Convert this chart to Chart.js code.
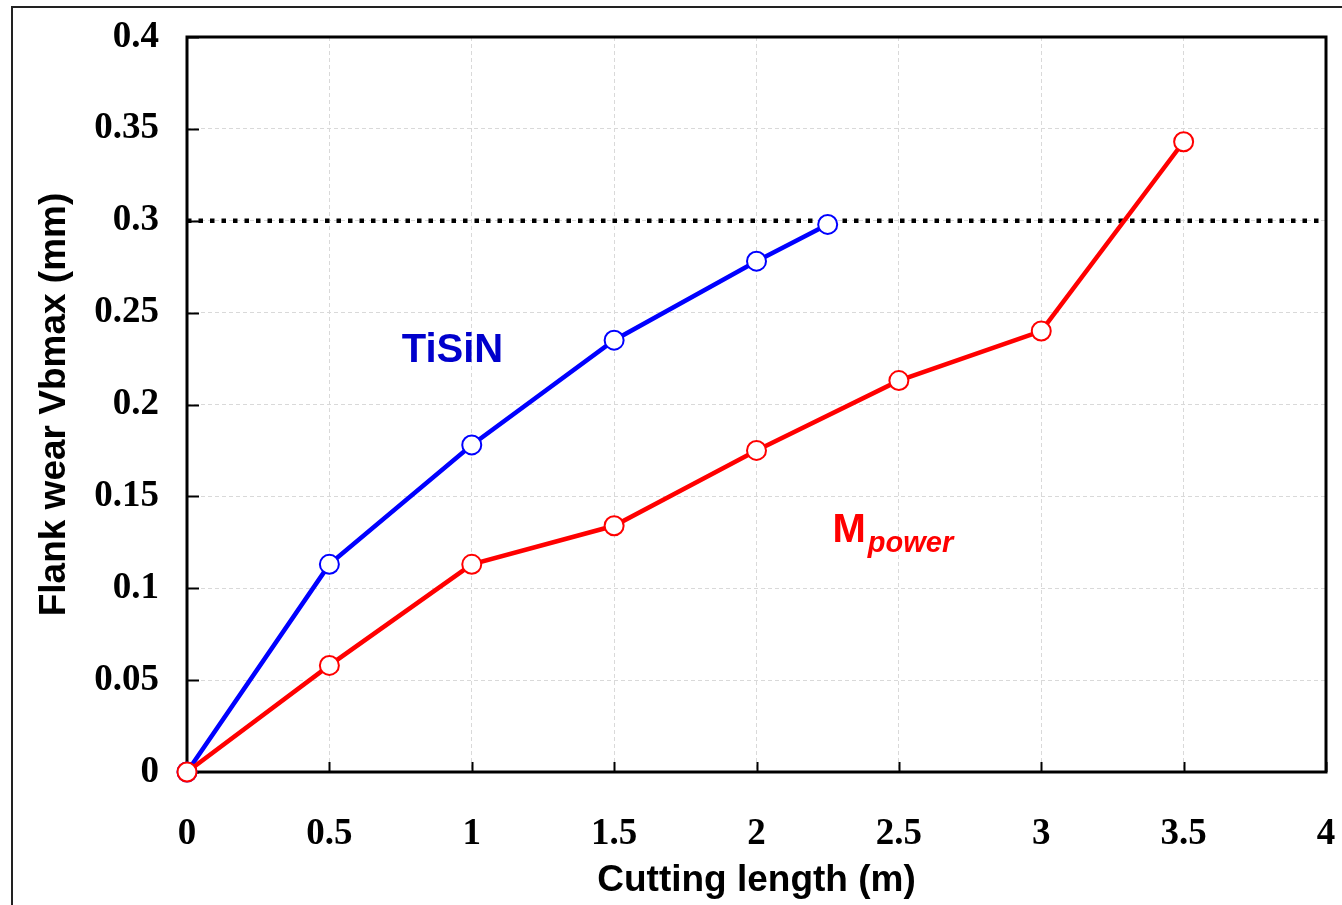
<!DOCTYPE html>
<html>
<head>
<meta charset="utf-8">
<script src="https://cdn.jsdelivr.net/npm/chart.js@4/dist/chart.umd.min.js"></script>
<style>
html,body{margin:0;padding:0;background:#fff;}
#wrap{width:1342px;height:905px;position:relative;}
</style>
</head>
<body>
<div id="wrap"><canvas id="c" width="1342" height="905"></canvas></div>
<script>
const cuttingLengthTiSiN = [0, 0.5, 1, 1.5, 2, 2.25];
const wearTiSiN = [0, 0.113, 0.178, 0.235, 0.278, 0.298];
const cuttingLengthMpower = [0, 0.5, 1, 1.5, 2, 2.5, 3, 3.5];
const wearMpower = [0, 0.058, 0.113, 0.134, 0.175, 0.213, 0.240, 0.343];
const limitX = [0, 4];
const limitY = [0.3, 0.3];
const xTicks = [0, 0.5, 1, 1.5, 2, 2.5, 3, 3.5, 4];
const yTicks = [0, 0.05, 0.1, 0.15, 0.2, 0.25, 0.3, 0.35, 0.4];

const pts = (xs, ys) => xs.map((x, i) => ({x: x, y: ys[i]}));

const framePlugin = {
  id: 'frame',
  beforeDraw(chart) {
    const ctx = chart.ctx;
    ctx.save();
    ctx.fillStyle = '#fff';
    ctx.fillRect(0, 0, chart.width, chart.height);
    ctx.strokeStyle = '#222';
    ctx.lineWidth = 2;
    ctx.strokeRect(12, 7, chart.width + 20, chart.height + 20);
    ctx.restore();
  },
  beforeDatasetsDraw(chart) {
    const ctx = chart.ctx;
    const a = chart.chartArea;
    const xs = chart.scales.x, ys = chart.scales.y;
    ctx.save();
    ctx.setLineDash([]);
    ctx.strokeStyle = '#000';
    ctx.lineWidth = 2;
    xTicks.forEach(v => {
      const px = Math.round(xs.getPixelForValue(v)) + 0.5;
      ctx.beginPath(); ctx.moveTo(px, a.bottom); ctx.lineTo(px, a.bottom - 10); ctx.stroke();
    });
    yTicks.forEach(v => {
      const py = Math.round(ys.getPixelForValue(v)) + 0.5;
      ctx.beginPath(); ctx.moveTo(a.left, py); ctx.lineTo(a.left + 12, py); ctx.stroke();
    });
    ctx.lineWidth = 3;
    ctx.strokeRect(a.left, a.top, a.right - a.left, a.bottom - a.top);
    ctx.restore();
  },
  afterDraw(chart) {
    const ctx = chart.ctx;
    const xs = chart.scales.x, ys = chart.scales.y;
    ctx.save();
    ctx.textBaseline = 'alphabetic';
    ctx.textAlign = 'left';
    ctx.fillStyle = '#0000cc';
    ctx.font = 'bold 40px "Liberation Sans", Arial, sans-serif';
    ctx.fillText('TiSiN', xs.getPixelForValue(0.754), ys.getPixelForValue(0.2231));
    ctx.fillStyle = '#ff0000';
    ctx.font = 'bold 40px "Liberation Sans", Arial, sans-serif';
    const mx = xs.getPixelForValue(2.267), my = ys.getPixelForValue(0.1252);
    ctx.fillText('M', mx, my);
    const mw = ctx.measureText('M').width;
    ctx.font = 'italic bold 29px "Liberation Sans", Arial, sans-serif';
    ctx.fillText('power', mx + mw + 2, my + 10);
    ctx.restore();
  }
};

const zeroPad = s => { s.paddingTop = 0; s.paddingBottom = 0; s.paddingLeft = 0; s.paddingRight = 0; };

new Chart(document.getElementById('c'), {
  type: 'scatter',
  data: {
    datasets: [
      {
        label: 'Mpower',
        data: pts(cuttingLengthMpower, wearMpower),
        showLine: true,
        clip: false,
        borderColor: '#ff0000',
        backgroundColor: '#ffffff',
        borderWidth: 4.5,
        pointRadius: 9.5,
        pointBorderWidth: 2,
        pointBorderColor: '#ff0000',
        pointBackgroundColor: '#ffffff'
      },
      {
        label: 'TiSiN',
        data: pts(cuttingLengthTiSiN, wearTiSiN),
        showLine: true,
        clip: false,
        borderColor: '#0000ff',
        backgroundColor: '#ffffff',
        borderWidth: 4.5,
        pointRadius: 9.5,
        pointBorderWidth: 2,
        pointBorderColor: '#0000ff',
        pointBackgroundColor: '#ffffff'
      },
      {
        label: 'limit',
        data: pts(limitX, limitY),
        showLine: true,
        borderColor: '#000000',
        borderWidth: 4.5,
        borderDash: [4.5, 7],
        pointRadius: 0
      }
    ]
  },
  options: {
    responsive: false,
    animation: false,
    layout: {padding: {top: 37, right: 16, left: 0, bottom: 0}},
    plugins: {legend: {display: false}, tooltip: {enabled: false}},
    scales: {
      x: {
        type: 'linear', min: 0, max: 4,
        afterBuildTicks: s => { s.ticks = xTicks.map(v => ({value: v})); },
        afterFit: s => { s.height = 133; zeroPad(s); },
        grid: {color: '#d9d9d9', drawTicks: false, lineWidth: 1},
        border: {display: false, dash: [4, 3]},
        ticks: {
          padding: 40, color: '#000',
          font: {family: '"Liberation Serif", "Times New Roman", serif', size: 37, weight: 'bold'},
          callback: v => String(v)
        },
        title: {
          display: true, text: 'Cutting length (m)', color: '#000',
          font: {family: '"Liberation Sans", Arial, sans-serif', size: 37, weight: 'bold'},
          padding: {top: 0, bottom: 2}
        }
      },
      y: {
        type: 'linear', min: 0, max: 0.4,
        afterBuildTicks: s => { s.ticks = yTicks.map(v => ({value: v})); },
        afterFit: s => { s.width = 187; zeroPad(s); },
        grid: {color: '#d9d9d9', drawTicks: false, lineWidth: 1},
        border: {display: false, dash: [4, 3]},
        ticks: {
          padding: 28, color: '#000',
          font: {family: '"Liberation Serif", "Times New Roman", serif', size: 37, weight: 'bold'},
          callback: v => String(v)
        },
        title: {
          display: true, text: 'Flank wear Vbmax (mm)', color: '#000',
          font: {family: '"Liberation Sans", Arial, sans-serif', size: 37, weight: 'bold'},
          padding: {top: 33, bottom: 0}
        }
      }
    }
  },
  plugins: [framePlugin]
});
</script>
</body>
</html>
